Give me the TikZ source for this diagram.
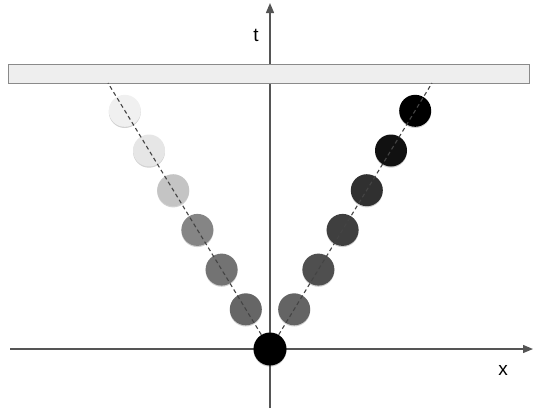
\documentclass[tikz,border=0pt]{standalone}
\usepackage{fontspec}
\setmainfont{Liberation Sans}
\usetikzlibrary{arrows.meta,shadows}
\definecolor{axisgray}{HTML}{555555}
\definecolor{bargray}{HTML}{8A8A8A}
\definecolor{barfill}{HTML}{EEEEEE}
\definecolor{dashgray}{HTML}{444444}
\begin{document}
\begin{tikzpicture}[x=1pt,y=-1pt,
  axis/.style={draw=axisgray, line width=1.3pt, -{Triangle[length=10pt,width=8pt]}},
  barbox/.style={draw=bargray, fill=barfill, line width=1pt, minimum width=521pt, minimum height=19pt, inner sep=0pt},
  ball/.style={circle, minimum size=32pt, inner sep=0pt, draw=none,
    drop shadow={shadow xshift=0pt, shadow yshift=-1.2pt, opacity=0.18, fill=black}},
  worldline/.style={draw=dashgray, line width=1.1pt, dash pattern=on 4pt off 3pt},
  lbl/.style={font=\fontsize{19}{22}\selectfont, text=black, inner sep=0pt}]
\useasboundingbox (0,0) rectangle (535,413);
% axes
\coordinate (xl) at (10,349);
\coordinate (xr) at (533,349);
\coordinate (tb) at (270,408);
\coordinate (tt) at (270,3);
\draw[axis] (xl) -- (xr);
\draw[axis] (tb) -- (tt);
% bar
\node[barbox] (bar) at (268.5,73.5) {};
% labels
\node[lbl] (tlab) at (256,35) {t};
\node[lbl] (xlab) at (503,370) {x};
% balls
\foreach \k/\lc/\rc in {1/666666/646464, 2/737373/4F4F4F, 3/858585/3F3F3F, 4/C4C4C4/303030, 5/E6E6E6/111111, 6/F0F0F0/000000}{
  \definecolor{lcol}{HTML}{\lc}
  \definecolor{rcol}{HTML}{\rc}
  \node[ball, fill=lcol] (l\k) at ({270-24.2*\k},{349-39.7*\k}) {};
  \node[ball, fill=rcol] (r\k) at ({270+24.2*\k},{349-39.7*\k}) {};
}
\node[ball, fill=black, minimum size=33pt] (o) at (270,349) {};
% world lines
\coordinate (lt) at (108,83);
\coordinate (rt) at (432,83);
\draw[worldline] (o) -- (lt);
\draw[worldline] (o) -- (rt);
\end{tikzpicture}
\end{document}
